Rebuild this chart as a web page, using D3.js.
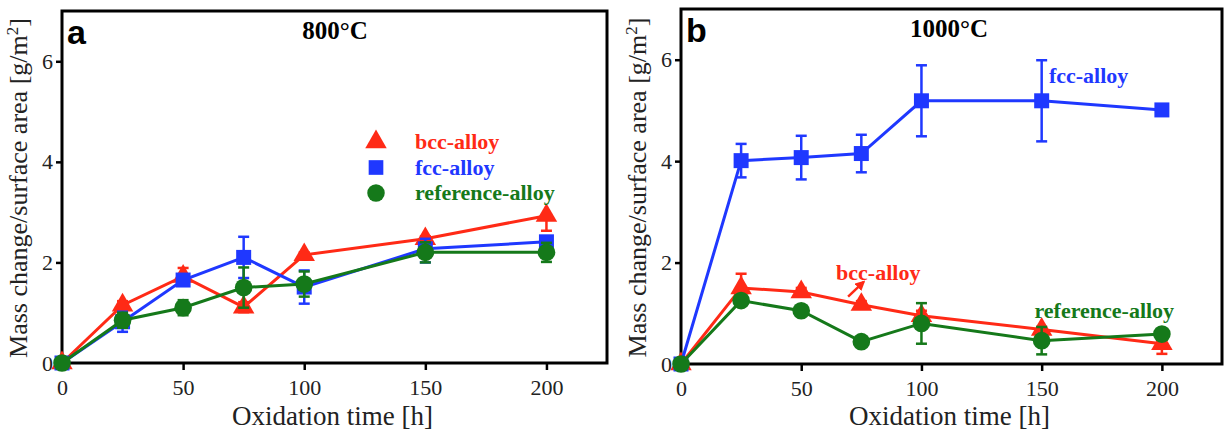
<!DOCTYPE html>
<html>
<head>
<meta charset="utf-8">
<script src="https://cdn.jsdelivr.net/npm/d3@7/dist/d3.min.js"></script>
<style>
  body { margin: 0; background: #fff; }
</style>
</head>
<body>
<div id="chart"></div>
<script>
// oxidation times (h) and axis ticks
const hours = [0, 25, 50, 75, 100, 150, 200]
const xTicks = [0, 50, 100, 150, 200]
const yTicks = [0, 2, 4, 6]

// 800 C, mass change [g/m2] with lower / upper error
const bcc800 = [0, 1.15, 1.72, 1.11, 2.15, 2.47, 2.93]
const bcc800Lo = [0, 0.08, 0.15, 0.1, 0.05, 0.05, 0.3]
const bcc800Hi = [0, 0.08, 0.17, 0.1, 0.05, 0.05, 0]
const fcc800 = [0, 0.82, 1.65, 2.1, 1.51, 2.27, 2.41]
const fcc800Lo = [0, 0.2, 0.08, 0.41, 0.33, 0.27, 0.1]
const fcc800Hi = [0, 0.2, 0.08, 0.41, 0.33, 0.2, 0.1]
const ref800 = [0, 0.85, 1.1, 1.5, 1.57, 2.2, 2.2]
const ref800Lo = [0, 0.15, 0.15, 0.4, 0.25, 0.2, 0.19]
const ref800Hi = [0, 0.15, 0.15, 0.4, 0.25, 0.2, 0.19]

// 1000 C
const bcc1000 = [0, 1.5, 1.42, 1.17, 0.95, 0.68, 0.4]
const bcc1000Lo = [0, 0.28, 0.08, 0.07, 0.1, 0.05, 0.2]
const bcc1000Hi = [0, 0.28, 0.08, 0.07, 0.1, 0.05, 0.2]
const fcc1000 = [0, 4.01, 4.07, 4.15, 5.19, 5.19, 5.01]
const fcc1000Lo = [0, 0.33, 0.43, 0.37, 0.7, 0.8, 0.05]
const fcc1000Hi = [0, 0.33, 0.43, 0.37, 0.7, 0.8, 0.05]
const ref1000 = [0, 1.25, 1.05, 0.44, 0.8, 0.46, 0.59]
const ref1000Lo = [0, 0.05, 0.05, 0.05, 0.4, 0.27, 0.05]
const ref1000Hi = [0, 0.05, 0.05, 0.05, 0.4, 0.27, 0.05]

const RED = '#ff2a16', BLUE = '#1f38ff', GREEN = '#15791a'
const SERIF = '"Liberation Serif", "Times New Roman", Times, serif'

var width = 1224, height = 434

var svg = d3.select('#chart').append('svg')
    .attr('width', width)
    .attr('height', height)
    .attr('font-family', SERIF)

function series(name, vals, lo, hi, color, shape, size) {
    return {
        name: name, color: color, shape: shape, size: size,
        points: hours.map(function (h, i) { return { h: h, v: vals[i], lo: vals[i] - lo[i], hi: vals[i] + hi[i] } })
    }
}

function drawPanel(opt) {
    var x = d3.scaleLinear().domain([0, 225]).range([opt.left, opt.right])
    var y = d3.scaleLinear().domain([0, 7]).range([opt.bottom, opt.top])
    var g = svg.append('g')

    // axes, ticks pointing outward
    var xAxis = g.append('g')
        .attr('transform', 'translate(0,' + opt.bottom + ')')
        .call(d3.axisBottom(x).tickValues(xTicks).tickSize(7).tickSizeOuter(0).tickPadding(9))
    var yAxis = g.append('g')
        .attr('transform', 'translate(' + opt.left + ',0)')
        .call(d3.axisLeft(y).tickValues(yTicks).tickFormat(d3.format('d')).tickSize(6).tickSizeOuter(0).tickPadding(3))
    ;[xAxis, yAxis].forEach(function (a) {
        a.attr('font-family', SERIF).attr('font-size', 22)
        a.select('.domain').remove()
        a.selectAll('line').attr('stroke', '#000').attr('stroke-width', 2.5)
        a.selectAll('text').attr('fill', '#222')
    })

    // frame
    g.append('rect')
        .attr('x', opt.left).attr('y', opt.top)
        .attr('width', opt.right - opt.left).attr('height', opt.bottom - opt.top)
        .attr('fill', 'none').attr('stroke', '#000').attr('stroke-width', 3)

    // axis titles
    g.append('text')
        .attr('x', (opt.left + opt.right) / 2 - 2)
        .attr('y', 425)
        .attr('text-anchor', 'middle')
        .attr('font-size', 27)
        .attr('fill', '#222')
        .text('Oxidation time [h]')

    var yl = g.append('text')
        .attr('transform', 'translate(' + (opt.left - 35) + ',' + ((opt.top + opt.bottom) / 2 + 1) + ') rotate(-90)')
        .attr('text-anchor', 'middle')
        .attr('font-size', 26)
        .attr('fill', '#222')
    yl.append('tspan').text('Mass change/surface area [g/m')
    yl.append('tspan').attr('dy', -9).attr('font-size', 17).text('2')
    yl.append('tspan').attr('dy', 9).text(']')

    // panel letter and temperature
    g.append('text')
        .attr('x', opt.left + 5).attr('y', opt.top + 33)
        .attr('font-family', '"Liberation Sans", Arial, sans-serif')
        .attr('font-size', 34).attr('font-weight', 'bold')
        .text(opt.letter)
    g.append('text')
        .attr('x', opt.titleX).attr('y', opt.top + 28)
        .attr('text-anchor', 'middle')
        .attr('font-size', 25).attr('font-weight', 'bold')
        .text(opt.title)

    var line = d3.line()
        .x(function (d) { return x(d.h) })
        .y(function (d) { return y(d.v) })

    opt.series.forEach(function (s) {
        var sg = g.append('g')
        sg.append('path')
            .datum(s.points)
            .attr('d', line)
            .attr('fill', 'none')
            .attr('stroke', s.color)
            .attr('stroke-width', 3)

        var eb = sg.selectAll('g.err')
            .data(s.points.filter(function (d) { return d.hi - d.lo > 0 }))
            .enter().append('g')
            .attr('stroke', s.color)
            .attr('stroke-width', 2.5)
        eb.append('line')
            .attr('x1', function (d) { return x(d.h) }).attr('x2', function (d) { return x(d.h) })
            .attr('y1', function (d) { return y(d.lo) }).attr('y2', function (d) { return y(d.hi) })
        eb.append('line')
            .attr('x1', function (d) { return x(d.h) - 5.5 }).attr('x2', function (d) { return x(d.h) + 5.5 })
            .attr('y1', function (d) { return y(d.lo) }).attr('y2', function (d) { return y(d.lo) })
        eb.append('line')
            .attr('x1', function (d) { return x(d.h) - 5.5 }).attr('x2', function (d) { return x(d.h) + 5.5 })
            .attr('y1', function (d) { return y(d.hi) }).attr('y2', function (d) { return y(d.hi) })

        sg.selectAll('path.mark')
            .data(s.points)
            .enter().append('path')
            .attr('class', 'mark')
            .attr('d', d3.symbol().type(s.shape).size(s.size))
            .attr('transform', function (d) { return 'translate(' + x(d.h) + ',' + y(d.v) + ')' })
            .attr('fill', s.color)
    })

    return { x: x, y: y, g: g }
}

var pa = drawPanel({
    left: 62, right: 607, top: 11, bottom: 363,
    letter: 'a', title: '800°C', titleX: 335,
    series: [
        series('bcc-alloy', bcc800, bcc800Lo, bcc800Hi, RED, d3.symbolTriangle, 200),
        series('fcc-alloy', fcc800, fcc800Lo, fcc800Hi, BLUE, d3.symbolSquare, 225),
        series('reference-alloy', ref800, ref800Lo, ref800Hi, GREEN, d3.symbolCircle, 245)
    ]
})

// legend for panel a
var legendItems = [
    { name: 'bcc-alloy', color: RED, shape: d3.symbolTriangle, size: 200 },
    { name: 'fcc-alloy', color: BLUE, shape: d3.symbolSquare, size: 215 },
    { name: 'reference-alloy', color: GREEN, shape: d3.symbolCircle, size: 240 }
]
var legend = pa.g.append('g').attr('transform', 'translate(376,142)')
legendItems.forEach(function (d, i) {
    legend.append('path')
        .attr('d', d3.symbol().type(d.shape).size(d.size))
        .attr('transform', 'translate(0,' + (i * 25.5) + ')')
        .attr('fill', d.color)
    legend.append('text')
        .attr('x', 39).attr('y', i * 25.5 + 7)
        .attr('font-size', 22).attr('font-weight', 'bold')
        .attr('fill', d.color)
        .text(d.name)
})

var pb = drawPanel({
    left: 681, right: 1222, top: 9, bottom: 364,
    letter: 'b', title: '1000°C', titleX: 949,
    series: [
        series('bcc-alloy', bcc1000, bcc1000Lo, bcc1000Hi, RED, d3.symbolTriangle, 200),
        series('fcc-alloy', fcc1000, fcc1000Lo, fcc1000Hi, BLUE, d3.symbolSquare, 225),
        series('reference-alloy', ref1000, ref1000Lo, ref1000Hi, GREEN, d3.symbolCircle, 245)
    ]
})

// direct labels in panel b
var labels = [
    { text: 'fcc-alloy', color: BLUE, h: 153, v: 5.55 },
    { text: 'bcc-alloy', color: RED, h: 64.5, v: 1.66 },
    { text: 'reference-alloy', color: GREEN, h: 147, v: 0.9 }
]
labels.forEach(function (d) {
    pb.g.append('text')
        .attr('x', pb.x(d.h)).attr('y', pb.y(d.v))
        .attr('font-size', 22).attr('font-weight', 'bold')
        .attr('fill', d.color)
        .text(d.text)
})

svg.append('defs').append('marker')
    .attr('id', 'arrowRed')
    .attr('viewBox', '0 0 10 10')
    .attr('refX', 8).attr('refY', 5)
    .attr('markerWidth', 4).attr('markerHeight', 4)
    .attr('orient', 'auto')
    .append('path').attr('d', 'M0,0L10,5L0,10z').attr('fill', RED)

pb.g.append('line')
    .attr('x1', pb.x(69.5)).attr('y1', pb.y(1.33))
    .attr('x2', pb.x(76)).attr('y2', pb.y(1.62))
    .attr('stroke', RED).attr('stroke-width', 2.5)
    .attr('marker-end', 'url(#arrowRed)')
</script>
</body>
</html>
